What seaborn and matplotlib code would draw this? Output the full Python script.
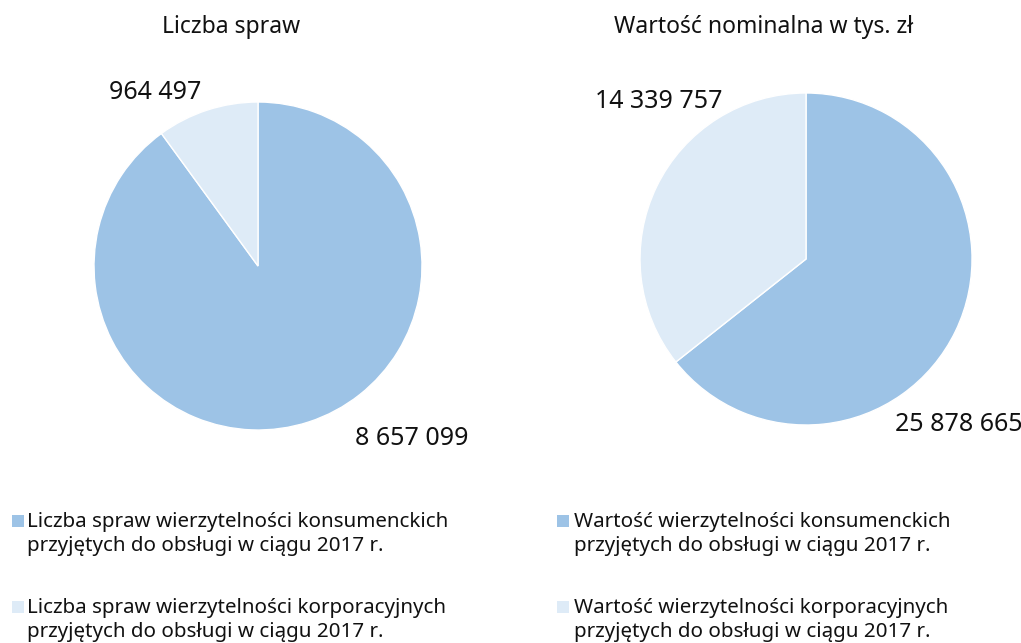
import matplotlib
matplotlib.use("Agg")
import matplotlib.pyplot as plt
import seaborn as sns
from matplotlib.patches import Patch, Rectangle
from matplotlib.legend_handler import HandlerPatch

sns.set_theme(style="white")
plt.rcParams['font.family'] = ['Noto Sans', 'DejaVu Sans']

# data
titles = ["Liczba spraw", "Wartość nominalna w tys. zł"]
categories = ["konsumenckich", "korporacyjnych"]
liczba_spraw = [8657099, 964497]
wartosc_nominalna = [25878665, 14339757]
value_labels = [["8 657 099", "964 497"], ["25 878 665", "14 339 757"]]
legend_labels = [
    ["Liczba spraw wierzytelności konsumenckich\nprzyjętych do obsługi w ciągu 2017 r.",
     "Liczba spraw wierzytelności korporacyjnych\nprzyjętych do obsługi w ciągu 2017 r."],
    ["Wartość wierzytelności konsumenckich\nprzyjętych do obsługi w ciągu 2017 r.",
     "Wartość wierzytelności korporacyjnych\nprzyjętych do obsługi w ciągu 2017 r."],
]

colors = ["#9dc3e6", "#deebf7"]


class TopSquare(HandlerPatch):
    # square sitting next to the first line of a two-line label
    def create_artists(self, legend, orig_handle, xdescent, ydescent,
                       width, height, fontsize, trans):
        s = 0.58 * fontsize
        p = Rectangle((-xdescent, -ydescent + height - s + 0.2 * fontsize), s, s,
                      facecolor=orig_handle.get_facecolor(), edgecolor="none",
                      transform=trans)
        return [p]


fig = plt.figure(figsize=(10.21, 6.43), dpi=100)
fig.patch.set_facecolor("white")

ax_pos = [[0.0519, 0.2675, 0.4016, 0.6376], [0.5862, 0.2745, 0.4065, 0.6454]]
# label spots (data coords, pie radius = 1)
label_xy = [[(0.94, -1.05), (-0.63, 1.055)], [(0.92, -1.0), (-0.89, 0.946)]]
title_x = [231 / 1021, 764 / 1021]
legend_x = [12 / 1021, 557 / 1021]
text_pad = [0.16, 0.25]

for i, vals in enumerate([liczba_spraw, wartosc_nominalna]):
    ax = fig.add_axes(ax_pos[i])
    ax.pie(vals, colors=colors, startangle=90, counterclock=False,
           wedgeprops=dict(edgecolor="white", linewidth=1))
    ax.set_aspect("equal")
    for (x, y), txt in zip(label_xy[i], value_labels[i]):
        ax.text(x, y, txt, ha="center", va="center", fontsize=18, color="#111111")
    fig.text(title_x[i], 1 - 27 / 643, titles[i], ha="center", va="center",
             fontsize=16.5, color="#111111")
    handles = [Patch(facecolor=c, edgecolor="none") for c in colors]
    leg = fig.legend(handles, legend_labels[i], loc="upper left",
                     bbox_to_anchor=(legend_x[i], 1 - 512 / 643), frameon=False,
                     fontsize=14.8, handlelength=0.58, handleheight=2.0,
                     handletextpad=text_pad[i], labelspacing=2.05,
                     borderpad=0, borderaxespad=0, labelcolor="#111111",
                     handler_map={Patch: TopSquare()})
    for t in leg.get_texts():
        t.set_linespacing(1.25)

fig.savefig("out.png", dpi=100)
